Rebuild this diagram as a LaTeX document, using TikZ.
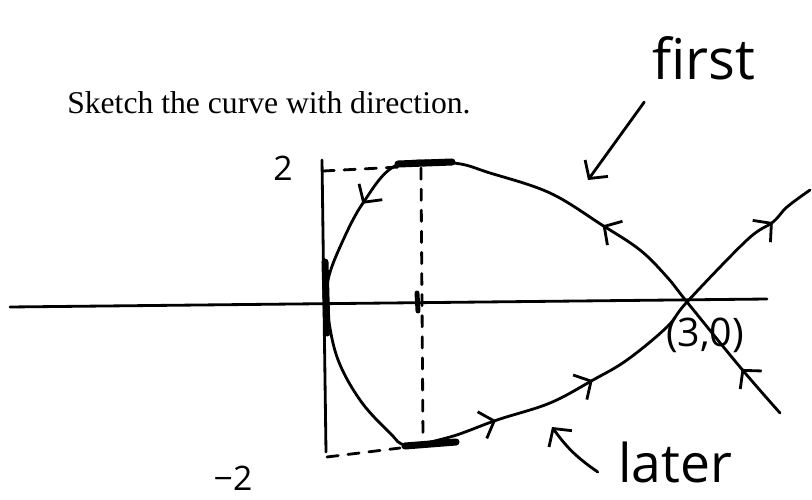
\documentclass[tikz,border=0pt]{standalone}
\usepackage{fontspec}
\setmainfont{Liberation Serif}
\newfontfamily\handfont{Open Sans}
\usepackage{tikz}
\usetikzlibrary{arrows.meta, decorations.markings, positioning}

\begin{document}
\begin{tikzpicture}[x=0.025cm, y=-0.025cm,
    pen/.style={line width=2pt, line cap=round, line join=round},
    smudge/.style={line width=5pt, line cap=round},
    dashline/.style={pen, dash pattern=on 8pt off 7pt},
    barb/.style={-{Straight Barb[length=9pt, width=20pt]}},
    hand/.style={font=\handfont\fontsize{#1}{#1}\selectfont, inner sep=0pt},
    dirmarks/.style={postaction={decorate}, decoration={markings,
      mark=at position 0.045 with {\arrow{Straight Barb[length=9pt, width=20pt]}},
      mark=at position 0.2 with {\arrow{Straight Barb[length=9pt, width=20pt]}},
      mark=at position 0.41 with {\arrow{Straight Barb[length=9pt, width=20pt]}},
      mark=at position 0.695 with {\arrow{Straight Barb[length=9pt, width=20pt]}},
      mark=at position 0.776 with {\arrow{Straight Barb[length=9pt, width=20pt]}},
      mark=at position 0.962 with {\arrow{Straight Barb[length=9pt, width=20pt]}}}}]
  \useasboundingbox (0,0) rectangle (812,500);

  % question
  \node[anchor=base west, inner sep=0pt, font=\fontsize{22.5}{27}\selectfont] (prompt) at (67,113)
    {Sketch the curve with direction.};

  % axes and bounds
  \draw[pen] (10,307) -- (767,299);
  \draw[pen] (322,160) -- (326,452);
  \draw[dashline] (323,171) -- (400,167);
  \draw[dashline] (421,168) -- (423,437);
  \draw[dashline] (327,457) -- (400,448);
  \node[hand=24] (ytop) at (283,168) {2};
  \node[hand=24] (ybot) at (233,478) {−2};

  % the curve
  \draw[pen, dirmarks] plot[smooth, tension=0.6] coordinates {
    (780,413) (740,367) (687,302) (667,277) (640,250) (602,225) (550,193)
    (490,173) (453,163) (397,165) (363,203) (340,247) (328,280) (327,307)
    (337,357) (360,400) (390,433) (407,445) (450,437) (497,420) (550,403)
    (593,380) (627,360) (667,327) (687,302) (747,240) (773,222) (787,207)
    (810,190)};
  \coordinate (cross) at (687,302);

  % highlighted extremes
  \draw[smudge] (398,164) -- (452,162);
  \draw[smudge] (405,446) -- (456,442);
  \draw[smudge] (325,262) -- (327,333);
  \draw[smudge, line width=3.5pt] (417,293) -- (418,311);

  % labels
  \node[hand=28] (ptlbl) at (705,335) {(3,0)};
  \node[hand=40] (firstlbl) at (704,58) {first};
  \node[hand=38] (laterlbl) at (675,462) {later};
  \coordinate (firsttip) at (588,180);
  \coordinate (latertip) at (552,427);
  \draw[pen, barb] ([shift={(-8,22)}]firstlbl.south west) -- (firsttip);
  \draw[pen, barb] ([shift={(-20,10)}]laterlbl.west) to[bend left=10] (latertip);
\end{tikzpicture}
\end{document}
